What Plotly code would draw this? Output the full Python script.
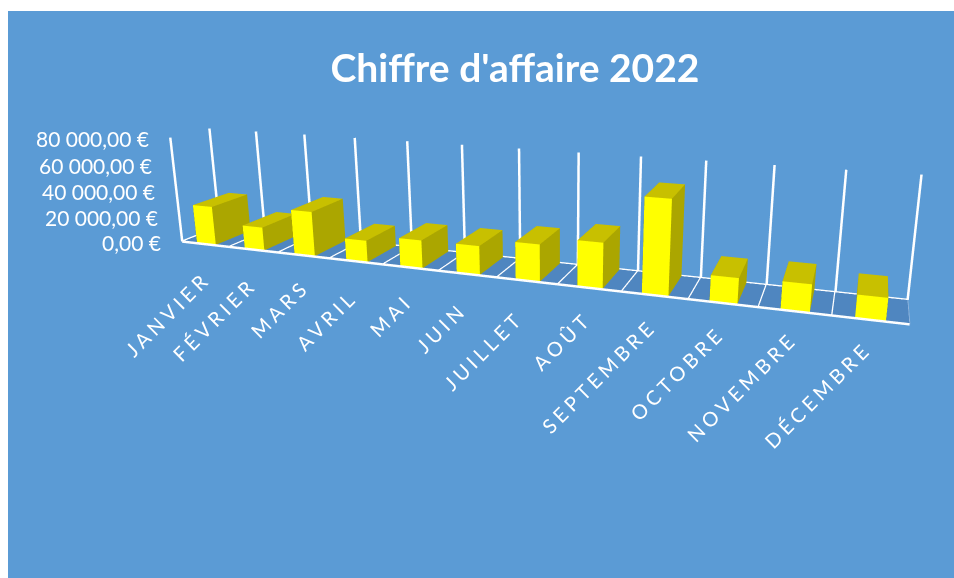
import plotly.graph_objects as go

TITLE = "Chiffre d'affaire 2022"
months = ["JANVIER", "FÉVRIER", "MARS", "AVRIL", "MAI", "JUIN", "JUILLET", "AOÛT",
          "SEPTEMBRE", "OCTOBRE", "NOVEMBRE", "DÉCEMBRE"]
values = [29500, 17500, 33000, 15800, 20200, 20400, 25800, 31200, 63500, 17000, 17900, 14500]
z_ticks = [0, 20000, 40000, 60000, 80000]
z_labels = ["0,00 €", "20 000,00 €", "40 000,00 €", "60 000,00 €", "80 000,00 €"]

WHITE = "#ffffff"
BLUE = "#5b9bd5"
FLOOR = "#4f86c0"
EDGE = "#8fb4dc"
FRONT = "#ffff00"
SIDE = "#aba600"
TOP = "#c8c000"

OFF_Y, W, H = 151, 970, 755
px = lambda x: x / W
py = lambda y: 1 - (y + OFF_Y) / H

n = len(months)
vx, vy, vz, fi, fj, fk, fc = [], [], [], [], [], [], []


def quad(p0, p1, p2, p3, color):
    b = len(vx)
    for p in (p0, p1, p2, p3):
        vx.append(p[0]); vy.append(p[1]); vz.append(p[2])
    fi.extend([b, b]); fj.extend([b + 1, b + 2]); fk.extend([b + 2, b + 3])
    fc.extend([color, color])


# floor
quad((0, 0, 0), (n, 0, 0), (n, 1, 0), (0, 1, 0), FLOOR)
# bars
x_gap, y_gap = 0.3, 0.02
for i, v in enumerate(values):
    a, b = i + x_gap, i + 1 - x_gap
    c, d = y_gap, 1 - y_gap
    quad((a, c, 1), (b, c, 1), (b, c, v), (a, c, v), FRONT)
    quad((b, c, 1), (b, d, 1), (b, d, v), (b, c, v), SIDE)
    quad((a, d, 1), (b, d, 1), (b, d, v), (a, d, v), SIDE)
    quad((a, c, 1), (a, d, 1), (a, d, v), (a, c, v), SIDE)
    quad((a, c, v), (b, c, v), (b, d, v), (a, d, v), TOP)

fig = go.Figure()
fig.add_trace(go.Mesh3d(x=vx, y=vy, z=vz, i=fi, j=fj, k=fk, facecolor=fc, flatshading=True,
                        lighting=dict(ambient=1, diffuse=0, specular=0, fresnel=0, roughness=1),
                        hoverinfo="skip", showscale=False))

# frame lines
lx, ly, lz = [], [], []


def seg(a, b):
    lx.extend([a[0], b[0], None]); ly.extend([a[1], b[1], None]); lz.extend([a[2], b[2], None])


zmax = z_ticks[-1]
seg((0, 0, 0), (n, 0, 0))
seg((0, 1, 0), (n, 1, 0))
seg((0, 0, 0), (0, 0, zmax))
for i in range(n + 1):
    if i < n:
        seg((i, 0, 0), (i, 1, 0))
    seg((i, 1, 0), (i, 1, zmax))
fig.add_trace(go.Scatter3d(x=lx, y=ly, z=lz, mode="lines", line=dict(color=WHITE, width=5),
                           hoverinfo="skip", showlegend=False))
fig.add_trace(go.Scatter3d(x=[n, n], y=[0, 1], z=[0, 0], mode="lines", line=dict(color=EDGE, width=3),
                           hoverinfo="skip", showlegend=False))

anns = []
for t, lab in zip(z_ticks, z_labels):
    anns.append(dict(x=0, y=0, z=t, text=lab, showarrow=False, xanchor="right", yanchor="middle",
                     xshift=-19, yshift=-1, font=dict(family="Lato", size=21, color=WHITE)))
for i, lab in enumerate(months):
    half = 6 + 5.5 * len(lab)
    anns.append(dict(x=i + 0.5, y=0, z=0, text=lab, showarrow=False, xanchor="center", yanchor="middle",
                     textangle=-45, xshift=6 - 0.85 * i - half, yshift=-(25 + half),
                     font=dict(family="Lato", size=20, color=WHITE)))

fig.update_layout(
    width=W, height=H, margin=dict(l=0, r=0, t=0, b=0), paper_bgcolor=WHITE, showlegend=False,
    shapes=[dict(type="rect", xref="paper", yref="paper", x0=px(8), x1=px(954), y0=py(578), y1=py(11),
                 fillcolor=BLUE, line_width=0, layer="below")],
    title=dict(text=f"<b>{TITLE}</b>", x=px(515), y=py(68), xanchor="center", yanchor="middle",
               font=dict(family="Lato", size=39, color=WHITE)),
    scene=dict(
        domain=dict(x=[130 / W, 1], y=[0, 1]),
        bgcolor="rgba(0,0,0,0)",
        xaxis=dict(visible=False, range=[0, n]),
        yaxis=dict(visible=False, range=[0, 1]),
        zaxis=dict(visible=False, range=[0, zmax]),
        aspectmode="manual", aspectratio=dict(x=1.5, y=0.125, z=0.2318),
        camera=dict(eye=dict(x=0.6502, y=-1.6144, z=0.4583),
                    center=dict(x=0.0162, y=0.2036, z=-0.0823),
                    up=dict(x=-0.0879, y=0.2562, z=0.9628),
                    projection=dict(type="perspective")),
        annotations=anns,
    ),
)

post = """
document.documentElement.style.overflow='hidden';
document.body.style.margin='-%dpx 0 0 0';
document.querySelectorAll('.annotation-text').forEach(function(t){
  if(/^[A-ZÉÛ]+$/.test(t.textContent)){t.style.letterSpacing='4.2px';}
});
""" % OFF_Y
fig.write_html("out.html", post_script=post, default_width=f"{W}px", default_height=f"{H}px")
